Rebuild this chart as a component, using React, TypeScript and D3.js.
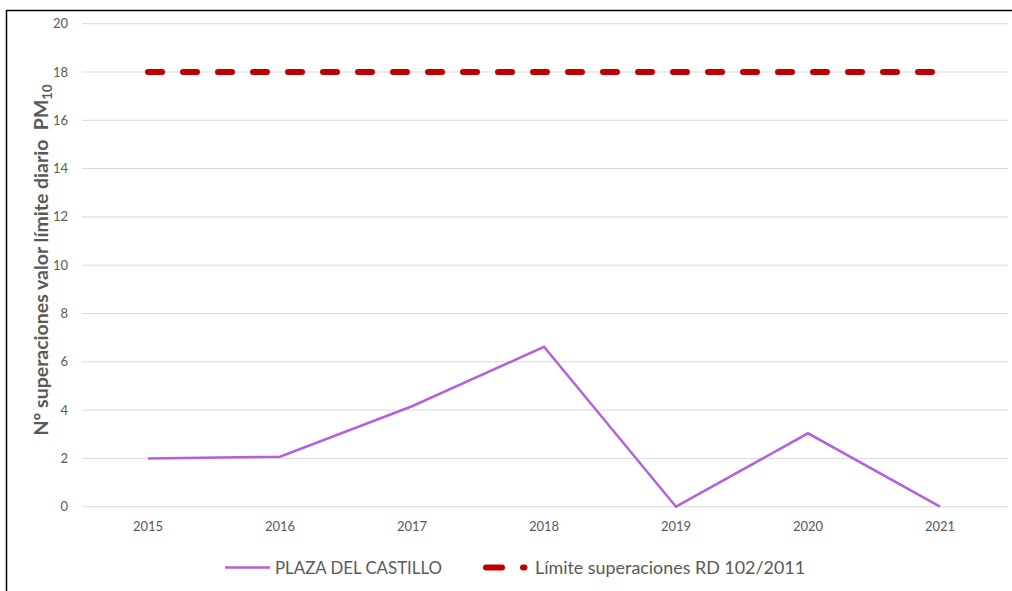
import React, { useEffect, useRef } from "react";
import * as d3 from "d3";

const years = ["2015", "2016", "2017", "2018", "2019", "2020", "2021"];
const plazaValues = [2, 2.07, 4.16, 6.62, 0, 3.04, 0];
const limitValues = [18, 18, 18, 18, 18, 18, 18];
const yTicks = [0, 2, 4, 6, 8, 10, 12, 14, 16, 18, 20];
const seriesNames = ["PLAZA DEL CASTILLO", "Límite superaciones RD 102/2011"];

const W = 1012;
const H = 591;
const FONT = "Lato, 'Open Sans', sans-serif";
const GRAY = "#595959";
const PURPLE = "#B460E0";
const RED = "#C00000";

export default function App() {
  const ref = useRef<SVGSVGElement>(null);

  useEffect(() => {
    const svg = d3.select(ref.current);
    svg.selectAll("*").remove();

    const x = d3.scaleBand<string>().domain(years).range([82, 1006]);
    const y = d3.scaleLinear().domain([0, 20]).range([506.7, 23.7]);
    const cx = (d: string) => (x(d) as number) + x.bandwidth() / 2;

    svg.append("rect").attr("x", 0).attr("y", 0).attr("width", W).attr("height", H).attr("fill", "#fff");

    // frame
    svg.append("line").attr("x1", 6.5).attr("x2", 6.5).attr("y1", 10).attr("y2", H).attr("stroke", "#000").attr("stroke-width", 1.5);
    svg.append("line").attr("x1", 6.5).attr("x2", W).attr("y1", 10.5).attr("y2", 10.5).attr("stroke", "#000").attr("stroke-width", 1.5);

    // gridlines
    svg.append("g").selectAll("line").data(yTicks).join("line")
      .attr("x1", 82).attr("x2", 1008)
      .attr("y1", (d) => y(d)).attr("y2", (d) => y(d))
      .attr("stroke", "#d9d9d9").attr("stroke-width", 1);

    // y tick labels
    svg.append("g").selectAll("text").data(yTicks).join("text")
      .attr("x", 68).attr("y", (d) => y(d)).attr("dy", "0.35em")
      .attr("text-anchor", "end").attr("font-family", FONT).attr("font-size", 13)
      .attr("fill", GRAY).text((d) => String(d));

    // x labels
    svg.append("g").selectAll("text").data(years).join("text")
      .attr("x", (d) => cx(d)).attr("y", 531)
      .attr("text-anchor", "middle").attr("font-family", FONT).attr("font-size", 13)
      .attr("fill", GRAY).text((d) => d);

    // y title
    const t = svg.append("text")
      .attr("transform", `translate(48, 260) rotate(-90)`)
      .attr("text-anchor", "middle").attr("font-family", FONT).attr("font-size", 19.5)
      .attr("font-weight", "bold").attr("fill", GRAY)
      .attr("xml:space", "preserve").style("white-space", "pre");
    t.append("tspan").text("Nº superaciones valor límite diario  PM");
    t.append("tspan").attr("font-size", 13).attr("dy", 4).text("10");

    // limit line
    const line = d3.line<number>().x((_, i) => cx(years[i])).y((d) => y(d));
    svg.append("path").datum(limitValues).attr("d", line)
      .attr("fill", "none").attr("stroke", RED).attr("stroke-width", 6)
      .attr("stroke-linecap", "round").attr("stroke-dasharray", "14 21");

    // plaza line
    svg.append("path").datum(plazaValues).attr("d", line)
      .attr("fill", "none").attr("stroke", PURPLE).attr("stroke-width", 2.5)
      .attr("stroke-linejoin", "miter");

    // legend
    const ly = 567.5;
    const lg = svg.append("g");
    lg.append("line").attr("x1", 225).attr("x2", 270).attr("y1", ly).attr("y2", ly)
      .attr("stroke", PURPLE).attr("stroke-width", 2.5);
    lg.append("text").attr("x", 275).attr("y", ly).attr("dy", "0.35em")
      .attr("font-family", FONT).attr("font-size", 17.5).attr("fill", GRAY)
      .attr("textLength", 167).attr("lengthAdjust", "spacingAndGlyphs").text(seriesNames[0]);
    lg.append("line").attr("x1", 486).attr("x2", 502).attr("y1", ly).attr("y2", ly)
      .attr("stroke", RED).attr("stroke-width", 6).attr("stroke-linecap", "round");
    lg.append("line").attr("x1", 523).attr("x2", 524.5).attr("y1", ly).attr("y2", ly)
      .attr("stroke", RED).attr("stroke-width", 6).attr("stroke-linecap", "round");
    lg.append("text").attr("x", 535).attr("y", ly).attr("dy", "0.35em")
      .attr("font-family", FONT).attr("font-size", 17.5).attr("fill", GRAY)
      .attr("textLength", 270).attr("lengthAdjust", "spacingAndGlyphs").text(seriesNames[1]);
  }, []);

  return (
    <svg ref={ref} width={W} height={H} style={{ position: "absolute", left: 0, top: 0, display: "block" }} />
  );
}
